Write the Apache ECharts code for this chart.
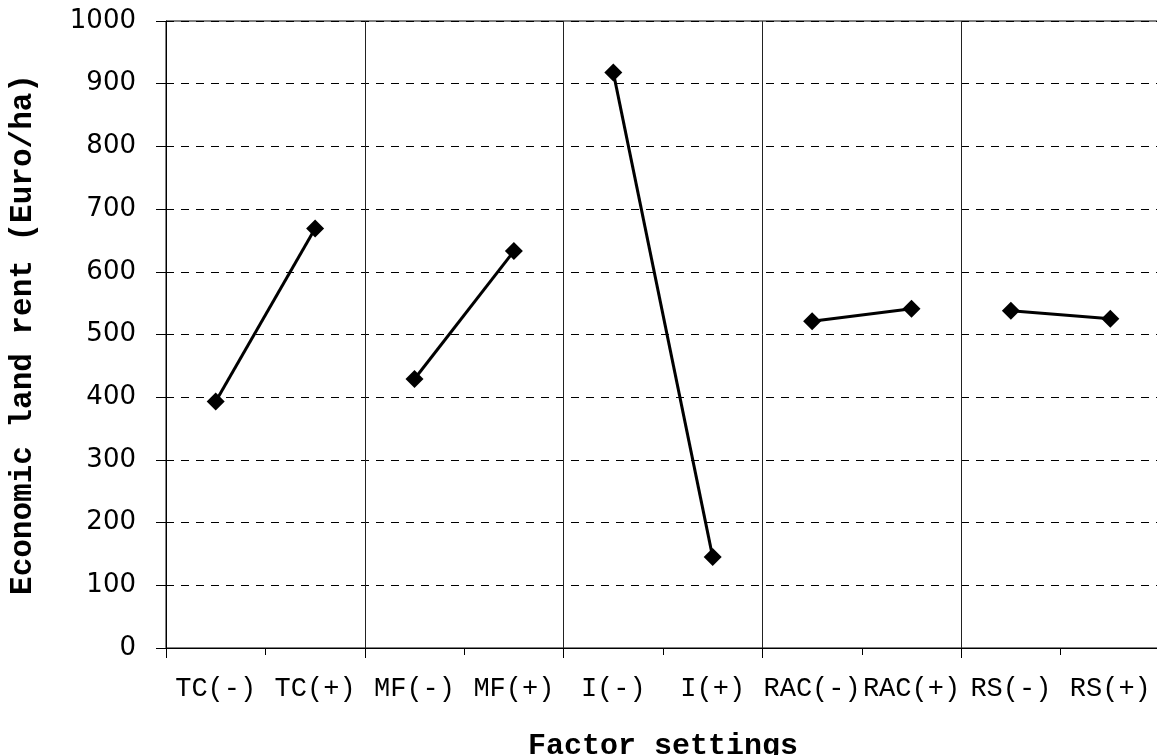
<!DOCTYPE html>
<html>
<head>
<meta charset="utf-8">
<script src="https://cdn.jsdelivr.net/npm/echarts@6/dist/echarts.min.js"></script>
<style>
html,body{margin:0;padding:0;background:#fff;}
#chart{width:1157px;height:755px;}
</style>
</head>
<body>
<div id="chart"></div>
<script>
const categories = ['TC(-)', 'TC(+)', 'MF(-)', 'MF(+)', 'I(-)', 'I(+)', 'RAC(-)', 'RAC(+)', 'RS(-)', 'RS(+)'];
const tcValues = [393, 669];
const mfValues = [429, 633];
const iValues = [918, 145];
const racValues = [521, 541];
const rsValues = [538, 525];
const yMin = 0, yMax = 1000, yStep = 100;
const xTitle = 'Factor settings';
const yTitle = 'Economic land rent (Euro/ha)';

const pairs = [tcValues, mfValues, iValues, racValues, rsValues];
const series = pairs.map((pair, i) => ({
  type: 'line',
  xAxisIndex: 0,
  data: categories.map((c, j) => Math.floor(j / 2) === i ? pair[j % 2] : '-'),
  symbol: 'diamond',
  symbolSize: 18,
  itemStyle: { color: '#000' },
  lineStyle: { color: '#000', width: 3 },
  connectNulls: false
}));

const mono = '"Liberation Mono", "Courier New", monospace';
const chart = echarts.init(document.getElementById('chart'));
chart.setOption({
  animation: false,
  backgroundColor: '#fff',
  grid: { left: 166, top: 21, bottom: 107, right: -3, show: true, borderColor: '#000', borderWidth: 1, backgroundColor: 'transparent', containLabel: false, outerBoundsMode: 'none' },
  xAxis: [{
    type: 'category',
    data: categories,
    boundaryGap: true,
    position: 'bottom',
    axisLine: { lineStyle: { color: '#000', width: 1 } },
    axisTick: { show: true, interval: 0, length: 7, lineStyle: { color: '#000' } },
    axisLabel: { interval: 0, margin: 27, color: '#000', fontFamily: mono, fontSize: 27 },
    splitLine: { show: false },
    name: xTitle,
    nameLocation: 'middle',
    nameGap: 83,
    nameTextStyle: { color: '#000', fontFamily: mono, fontSize: 30, fontWeight: 'bold' }
  }, {
    type: 'category',
    data: categories,
    boundaryGap: true,
    position: 'bottom',
    axisLine: { show: false },
    axisTick: { show: true, interval: 1, length: 10, lineStyle: { color: '#000' } },
    axisLabel: { show: false },
    splitLine: { show: true, interval: 1, lineStyle: { color: '#222', width: 1 } }
  }],
  yAxis: {
    type: 'value',
    min: yMin, max: yMax, interval: yStep,
    axisLine: { show: true, lineStyle: { color: '#000', width: 1 } },
    axisTick: { show: true, length: 10, lineStyle: { color: '#000' } },
    axisLabel: { margin: 30, color: '#000', fontFamily: '"DejaVu Sans", sans-serif', fontSize: 26, formatter: v => String(v) },
    splitLine: { show: true, lineStyle: { color: '#000', width: 1, type: [8, 7] } },
    name: yTitle,
    nameLocation: 'middle',
    nameGap: 127,
    nameTextStyle: { color: '#000', fontFamily: mono, fontSize: 31, fontWeight: 'bold' }
  },
  series: series
});
</script>
</body>
</html>
